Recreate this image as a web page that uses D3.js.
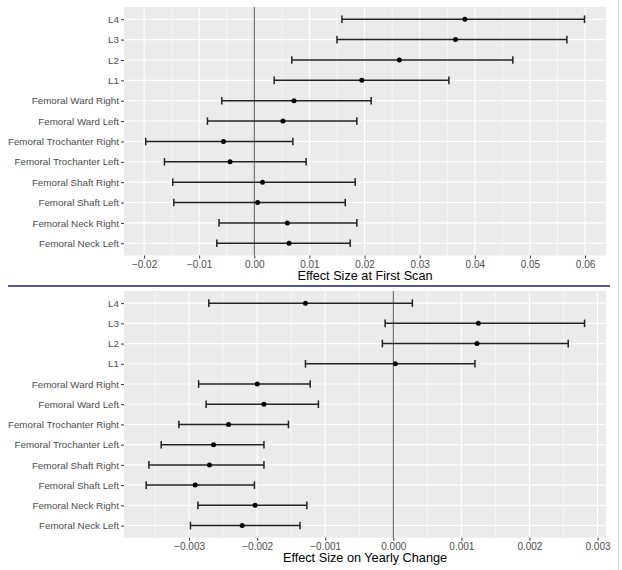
<!DOCTYPE html>
<html>
<head>
<meta charset="utf-8">
<script src="https://cdn.jsdelivr.net/npm/d3@7"></script>
<style>
  body { margin: 0; background: #fff; }
  svg { display: block; font-family: 'Liberation Sans', Arial, sans-serif; }
</style>
</head>
<body>
<div id="chart"></div>
<script>
const categories = [
  'L4', 'L3', 'L2', 'L1',
  'Femoral Ward Right', 'Femoral Ward Left',
  'Femoral Trochanter Right', 'Femoral Trochanter Left',
  'Femoral Shaft Right', 'Femoral Shaft Left',
  'Femoral Neck Right', 'Femoral Neck Left'
];

// effect size at first scan
const firstEst   = [0.0382, 0.0365, 0.0263, 0.0195, 0.0072, 0.0052, -0.0056, -0.0044, 0.0015, 0.0006, 0.0060, 0.0063];
const firstLower = [0.0159, 0.0150, 0.0068, 0.0036, -0.0059, -0.0085, -0.0197, -0.0163, -0.0148, -0.0146, -0.0064, -0.0068];
const firstUpper = [0.0599, 0.0567, 0.0469, 0.0353, 0.0212, 0.0186, 0.0070, 0.0094, 0.0183, 0.0165, 0.0186, 0.0174];
const firstTicks = [-0.02, -0.01, 0, 0.01, 0.02, 0.03, 0.04, 0.05, 0.06];

// effect size on yearly change
const yearlyEst   = [-0.00129, 0.00125, 0.00123, 0.00003, -0.00200, -0.00190, -0.00242, -0.00264, -0.00270, -0.00291, -0.00203, -0.00222];
const yearlyLower = [-0.00271, -0.00012, -0.00016, -0.00129, -0.00286, -0.00275, -0.00315, -0.00341, -0.00359, -0.00363, -0.00287, -0.00298];
const yearlyUpper = [0.00028, 0.00281, 0.00257, 0.00120, -0.00122, -0.00110, -0.00154, -0.00190, -0.00190, -0.00204, -0.00127, -0.00137];
const yearlyTicks = [-0.003, -0.002, -0.001, 0, 0.001, 0.002, 0.003];

const width = 622;
const height = 570;

const svg = d3.select('#chart')
  .append('svg')
  .attr('width', width)
  .attr('height', height);

function renderPanel(opts) {
  const { top, bottom, domain, ticks, fmt, est, lower, upper, title, step } = opts;
  const left = 124;
  const right = 606;

  const x = d3.scaleLinear().domain(domain).range([left, right]);
  const y = d3.scalePoint()
    .domain(categories)
    .range([top, bottom])
    .padding(0.6);

  const g = svg.append('g');

  g.append('rect')
    .attr('x', left)
    .attr('y', top)
    .attr('width', right - left)
    .attr('height', bottom - top)
    .attr('fill', '#ebebeb');

  // minor grid at half steps
  const minor = d3.range(Math.ceil(domain[0] / step - 0.5) + 0.5, domain[1] / step, 1)
    .map(k => k * step)
    .filter(v => v > domain[0] && v < domain[1]);

  g.selectAll('.minor')
    .data(minor)
    .enter()
    .append('line')
    .attr('x1', d => x(d))
    .attr('x2', d => x(d))
    .attr('y1', top)
    .attr('y2', bottom)
    .attr('stroke', '#fff')
    .attr('stroke-width', 0.6);

  g.selectAll('.vmajor')
    .data(ticks)
    .enter()
    .append('line')
    .attr('x1', d => x(d))
    .attr('x2', d => x(d))
    .attr('y1', top)
    .attr('y2', bottom)
    .attr('stroke', '#fff')
    .attr('stroke-width', 1.1);

  g.selectAll('.hmajor')
    .data(categories)
    .enter()
    .append('line')
    .attr('x1', left)
    .attr('x2', right)
    .attr('y1', d => y(d))
    .attr('y2', d => y(d))
    .attr('stroke', '#fff')
    .attr('stroke-width', 1.1);

  // zero reference
  g.append('line')
    .attr('x1', x(0))
    .attr('x2', x(0))
    .attr('y1', top)
    .attr('y2', bottom)
    .attr('stroke', '#444')
    .attr('stroke-width', 0.9);

  const rows = categories.map((c, i) => ({ c, est: est[i], lo: lower[i], hi: upper[i] }));
  const cap = 3.8;

  const bars = g.selectAll('.bar')
    .data(rows)
    .enter()
    .append('g');

  bars.append('line')
    .attr('x1', d => x(d.lo))
    .attr('x2', d => x(d.hi))
    .attr('y1', d => y(d.c))
    .attr('y2', d => y(d.c))
    .attr('stroke', '#222')
    .attr('stroke-width', 1.5);

  bars.append('line')
    .attr('x1', d => x(d.lo))
    .attr('x2', d => x(d.lo))
    .attr('y1', d => y(d.c) - cap)
    .attr('y2', d => y(d.c) + cap)
    .attr('stroke', '#222')
    .attr('stroke-width', 1.5);

  bars.append('line')
    .attr('x1', d => x(d.hi))
    .attr('x2', d => x(d.hi))
    .attr('y1', d => y(d.c) - cap)
    .attr('y2', d => y(d.c) + cap)
    .attr('stroke', '#222')
    .attr('stroke-width', 1.5);

  bars.append('circle')
    .attr('cx', d => x(d.est))
    .attr('cy', d => y(d.c))
    .attr('r', 2.5)
    .attr('fill', '#000');

  // axes
  const xAxis = g.append('g')
    .attr('transform', `translate(0,${bottom})`)
    .call(d3.axisBottom(x).tickValues(ticks).tickFormat(fmt).tickSize(3).tickPadding(2));
  xAxis.select('.domain').remove();
  xAxis.selectAll('line').attr('stroke', '#333');
  xAxis.selectAll('text')
    .attr('fill', '#4d4d4d')
    .style('font-size', '10px')
    .style('font-family', 'Liberation Sans, Arial, sans-serif');

  const yAxis = g.append('g')
    .attr('transform', `translate(${left},0)`)
    .call(d3.axisLeft(y).tickSize(3).tickPadding(2));
  yAxis.select('.domain').remove();
  yAxis.selectAll('line').attr('stroke', '#333');
  yAxis.selectAll('text')
    .attr('fill', '#4d4d4d')
    .style('font-size', '9.8px')
    .style('font-family', 'Liberation Sans, Arial, sans-serif');

  g.append('text')
    .attr('x', (left + right) / 2)
    .attr('y', bottom + 24.5)
    .attr('text-anchor', 'middle')
    .attr('fill', '#000')
    .style('font-size', '12.7px')
    .text(title);
}

renderPanel({
  top: 7,
  bottom: 255.5,
  domain: [-0.02364, 0.0638],
  ticks: firstTicks,
  fmt: d3.format('.2f'),
  est: firstEst,
  lower: firstLower,
  upper: firstUpper,
  title: 'Effect Size at First Scan',
  step: 0.01
});

renderPanel({
  top: 291,
  bottom: 537.7,
  domain: [-0.003956, 0.003125],
  ticks: yearlyTicks,
  fmt: d3.format('.3f'),
  est: yearlyEst,
  lower: yearlyLower,
  upper: yearlyUpper,
  title: 'Effect Size on Yearly Change',
  step: 0.001
});

// divider between the two plots
svg.append('line')
  .attr('x1', 8)
  .attr('x2', 610)
  .attr('y1', 286)
  .attr('y2', 286)
  .attr('stroke', '#1c1c8a')
  .attr('stroke-width', 1.3);

// faint frame edge on the right
svg.append('line')
  .attr('x1', 618.5)
  .attr('x2', 618.5)
  .attr('y1', 0)
  .attr('y2', height)
  .attr('stroke', '#dcdcdc')
  .attr('stroke-width', 1);
</script>
</body>
</html>
